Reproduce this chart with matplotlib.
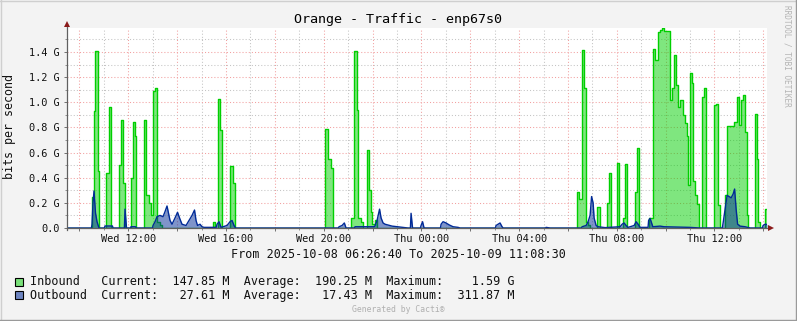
import matplotlib
matplotlib.use('Agg')
import matplotlib.pyplot as plt
from matplotlib.lines import Line2D
from matplotlib.patches import Rectangle

plt.rcParams['font.family'] = ['DejaVu Sans Mono']

# ---------------- data (hours since Wed 00:00, values in Gbit/s) ----------------
T_START = 9.490
T_END = 38.150
Y_MAX = 1.591

in_t = [9.490, 10.514, 10.583, 10.649, 10.747, 10.813, 11.067, 11.222, 11.292,
        11.607, 11.701, 11.771, 11.865, 12.111, 12.193, 12.262, 12.328, 12.643,
        12.737, 12.848, 12.909, 12.991, 13.094, 13.188, 13.298, 13.380, 15.469,
        15.551, 15.661, 15.743, 15.817, 16.177, 16.276, 16.357, 20.055, 20.178,
        20.301, 20.395, 21.120, 21.222, 21.353, 21.419, 21.529, 21.611, 21.775,
        21.857, 21.939, 21.980, 22.082, 22.185, 30.387, 30.469, 30.559, 30.641,
        30.731, 30.825, 30.907, 31.194, 31.316, 31.583, 31.673, 31.767, 32.012,
        32.094, 32.238, 32.340, 32.434, 32.750, 32.844, 32.926, 33.335, 33.499,
        33.581, 33.679, 33.773, 33.843, 33.917, 34.163, 34.245, 34.335, 34.429,
        34.523, 34.605, 34.695, 34.777, 34.859, 34.921, 34.990, 35.072, 35.137,
        35.207, 35.289, 35.350, 35.473, 35.575, 35.657, 35.964, 36.067, 36.141,
        36.210, 36.435, 36.529, 36.783, 36.906, 36.988, 37.070, 37.152, 37.234,
        37.316, 37.377, 37.651, 37.725, 37.799, 37.868, 38.053, 38.150]
in_v = [0.0, 0.25, 0.93, 1.41, 0.456, 0.0, 0.44, 0.96, 0.0,
        0.50, 0.857, 0.36, 0.0, 0.40, 0.84, 0.73, 0.0, 0.857,
        0.26, 0.20, 0.10, 1.09, 1.11, 0.05, 0.02, 0.0, 0.05,
        0.0, 1.03, 0.78, 0.0, 0.49, 0.36, 0.0, 0.79, 0.546,
        0.48, 0.0, 0.08, 1.41, 0.94, 0.08, 0.05, 0.0, 0.62,
        0.30, 0.13, 0.03, 0.06, 0.0, 0.284, 0.23, 1.413, 1.11,
        0.05, 0.02, 0.0, 0.17, 0.0, 0.20, 0.435, 0.0, 0.52,
        0.0, 0.08, 0.507, 0.0, 0.29, 0.64, 0.0, 0.08, 1.42,
        1.34, 1.557, 1.575, 1.59, 1.57, 1.02, 1.11, 1.38, 1.14,
        0.965, 1.02, 0.90, 0.833, 0.73, 0.34, 1.23, 1.15, 0.37,
        0.26, 0.19, 0.0, 1.045, 1.11, 0.0, 0.98, 0.985, 0.18,
        0.0, 0.26, 0.81, 0.84, 1.045, 0.82, 1.02, 1.055, 0.76,
        0.10, 0.0, 0.905, 0.55, 0.05, 0.0, 0.15, 0.15]

out_t = [9.490, 10.490, 10.514, 10.555, 10.596, 10.657, 10.719, 10.800, 11.020,
         11.046, 11.350, 11.374, 11.840, 11.865, 11.927, 12.090, 12.111, 12.300,
         12.328, 12.990, 13.012, 13.094, 13.176, 13.298, 13.421, 13.503, 13.585,
         13.646, 13.708, 13.790, 13.913, 14.015, 14.117, 14.199, 14.363, 14.486,
         14.609, 14.711, 14.773, 14.834, 14.936, 15.018, 15.100, 15.600, 15.633,
         15.715, 15.796, 16.042, 16.165, 16.247, 16.329, 16.390, 20.600, 20.628,
         20.751, 20.845, 20.915, 21.260, 21.284, 22.080, 22.103, 22.185, 22.287,
         22.349, 22.431, 22.513, 22.800, 23.249, 23.454, 23.550, 23.577, 23.638,
         23.960, 23.986, 24.048, 24.109, 24.780, 24.806, 24.887, 25.010, 25.133,
         25.297, 25.502, 25.584, 27.030, 27.058, 27.221, 27.303, 27.344, 29.080,
         29.105, 29.268, 30.550, 30.579, 30.744, 30.825, 30.907, 30.968, 31.030,
         31.071, 31.153, 31.235, 31.522, 32.135, 32.217, 32.299, 32.381, 32.463,
         32.709, 32.791, 32.873, 32.955, 33.280, 33.303, 33.364, 33.475, 33.773,
         33.938, 34.980, 35.412, 36.320, 36.353, 36.435, 36.517, 36.599, 36.681,
         36.763, 36.824, 36.886, 36.947, 37.049, 37.254, 37.459, 37.960, 37.991,
         38.073, 38.150]
out_v = [0.0, 0.0, 0.03, 0.20, 0.294, 0.12, 0.05, 0.0, 0.0,
         0.016, 0.016, 0.0, 0.0, 0.15, 0.0, 0.0, 0.01, 0.01,
         0.0, 0.0, 0.02, 0.05, 0.09, 0.10, 0.09, 0.13, 0.175,
         0.12, 0.06, 0.03, 0.08, 0.125, 0.07, 0.03, 0.02, 0.06,
         0.10, 0.143, 0.06, 0.02, 0.03, 0.01, 0.005, 0.005, 0.03,
         0.05, 0.005, 0.02, 0.05, 0.06, 0.02, 0.0, 0.0, 0.01,
         0.02, 0.04, 0.0, 0.0, 0.01, 0.01, 0.02, 0.06, 0.15,
         0.08, 0.04, 0.03, 0.015, 0.005, 0.0, 0.0, 0.117, 0.0,
         0.0, 0.02, 0.05, 0.0, 0.0, 0.03, 0.05, 0.04, 0.025,
         0.01, 0.005, 0.0, 0.0, 0.02, 0.04, 0.01, 0.0, 0.0,
         0.005, 0.0, 0.0, 0.01, 0.02, 0.05, 0.10, 0.25, 0.20,
         0.08, 0.02, 0.01, 0.003, 0.01, 0.03, 0.04, 0.02, 0.005,
         0.02, 0.05, 0.03, 0.005, 0.005, 0.06, 0.077, 0.01, 0.015,
         0.01, 0.005, 0.0, 0.0, 0.04, 0.15, 0.26, 0.25, 0.24,
         0.27, 0.31, 0.15, 0.03, 0.015, 0.01, 0.0, 0.0, 0.02,
         0.03, 0.028]

x_grid_major = [10, 12, 14, 16, 18, 20, 22, 24, 26, 28, 30, 32, 34, 36, 38]
x_grid_minor = [11, 13, 15, 17, 19, 21, 23, 25, 27, 29, 31, 33, 35, 37]
x_label_hours = [12, 16, 20, 24, 28, 32, 36]
x_labels = ['Wed 12:00', 'Wed 16:00', 'Wed 20:00', 'Thu 00:00',
            'Thu 04:00', 'Thu 08:00', 'Thu 12:00']
y_major = [0.0, 0.2, 0.4, 0.6, 0.8, 1.0, 1.2, 1.4]
y_labels = ['0.0', '0.2 G', '0.4 G', '0.6 G', '0.8 G', '1.0 G', '1.2 G', '1.4 G']
y_minor = [0.1, 0.3, 0.5, 0.7, 0.9, 1.1, 1.3, 1.5]

legend_names = ['Inbound', 'Outbound']
legend_current = ['147.85 M', '27.61 M']
legend_average = ['190.25 M', '17.43 M']
legend_maximum = ['1.59 G', '311.87 M']

title = 'Orange - Traffic - enp67s0'
range_text = 'From 2025-10-08 06:26:40 To 2025-10-09 11:08:30'

IN_COLOR = '#00CF00'
OUT_COLOR = '#002A97'

# ---------------- figure ----------------
W, H = 797, 321
fig = plt.figure(figsize=(W / 100, H / 100), dpi=100)
fig.patch.set_facecolor('#F3F3F3')


def fx(px):
    return px / W


def fy(py):
    return 1 - py / H


ax = fig.add_axes([fx(67), fy(228), 700 / W, 200 / H])
ax.set_facecolor('white')
for s in ax.spines.values():
    s.set_visible(False)
ax.set_xlim(T_START, T_END)
ax.set_ylim(0, Y_MAX)

# ticks / grid
ax.set_xticks(x_grid_major)
ax.set_xticklabels([x_labels[x_label_hours.index(h)] if h in x_label_hours else ''
                    for h in x_grid_major])
ax.set_xticks(x_grid_minor, minor=True)
ax.set_yticks(y_major)
ax.set_yticklabels(y_labels)
ax.set_yticks(y_minor, minor=True)
ax.grid(True, which='major', color='#F2A0A0', linestyle=(0, (1, 2)), linewidth=0.75)
ax.grid(True, which='minor', color='#C4C4C4', linestyle=(0, (1, 2)), linewidth=0.75)
ax.set_axisbelow(True)
ax.tick_params(axis='both', which='major', length=2.2, width=0.7, color='#707070',
               labelsize=7.4, labelcolor='#111111')
ax.tick_params(axis='both', which='minor', length=1.4, width=0.7, color='#909090')
ax.tick_params(axis='x', which='major', pad=1.8)
ax.tick_params(axis='y', which='major', pad=3.2)

# data
ax.fill_between(in_t, in_v, step='post', color=IN_COLOR, alpha=0.5, lw=0, zorder=2)
ax.step(in_t, in_v, where='post', color=IN_COLOR, lw=1.0, zorder=3)
ax.fill_between(out_t, out_v, color=OUT_COLOR, alpha=0.5, lw=0, zorder=4)
ax.plot(out_t, out_v, color=OUT_COLOR, lw=1.0, zorder=5)

# axes lines with arrows
ax.plot([0, 0], [-1.5 / 200, 1 + 4 / 200], transform=ax.transAxes, color='#606060',
        lw=0.9, clip_on=False, zorder=6)
ax.plot([0, 1 + 3 / 700], [0, 0], transform=ax.transAxes, color='#606060',
        lw=0.9, clip_on=False, zorder=6)
ax.plot([0], [1 + 4.5 / 200], transform=ax.transAxes, marker='^', ms=4.6,
        color='#8B1A1A', clip_on=False, zorder=7, mew=0)
ax.plot([1 + 4 / 700], [0], transform=ax.transAxes, marker='>', ms=4.6,
        color='#8B1A1A', clip_on=False, zorder=7, mew=0)

# texts
fig.text(fx(397.5), fy(20), title, ha='center', va='center', fontsize=9.6, color='#000000')
fig.text(fx(10), fy(127), 'bits per second', ha='center', va='center', rotation=90,
         fontsize=8.4, color='#111111')
fig.text(fx(398), fy(254), range_text, ha='center', va='center', fontsize=8.5,
         color='#111111')
fig.text(fx(787.5), fy(56), 'RRDTOOL / TOBI OETIKER', ha='center', va='center',
         rotation=270, fontsize=5.6, color='#B4B4B4')
fig.text(fx(398), fy(310), 'Generated by Cacti®', ha='center', va='center',
         fontsize=5.9, color='#B0B0B0')

# legend
row_y = [282, 295]
sw_colors = [(0, 0.81, 0, 0.5), (0, 0.165, 0.59, 0.55)]
for i, name in enumerate(legend_names):
    fig.add_artist(Rectangle((fx(15), fy(row_y[i] + 4)), 8 / W, 8 / H,
                             transform=fig.transFigure, facecolor=sw_colors[i],
                             edgecolor='black', lw=0.8))
    line = (f"{name:<10}Current:{legend_current[i]:>10}  "
            f"Average:{legend_average[i]:>10}  Maximum:{legend_maximum[i]:>10}")
    fig.text(fx(30), fy(row_y[i]), line, ha='left', va='center', fontsize=8.5,
             color='#111111')

# image border
fig.add_artist(Line2D([0, 1], [fy(0.6), fy(0.6)], transform=fig.transFigure,
                      color='#CFCFCF', lw=1.0))
fig.add_artist(Line2D([fx(0.6), fx(0.6)], [0, 1], transform=fig.transFigure,
                      color='#CFCFCF', lw=1.0))
fig.add_artist(Line2D([0, 1], [fy(320.4), fy(320.4)], transform=fig.transFigure,
                      color='#9A9A9A', lw=1.0))
fig.add_artist(Line2D([fx(796.4), fx(796.4)], [0, 1], transform=fig.transFigure,
                      color='#9A9A9A', lw=1.0))

fig.savefig('out.png', dpi=100, facecolor=fig.get_facecolor())
